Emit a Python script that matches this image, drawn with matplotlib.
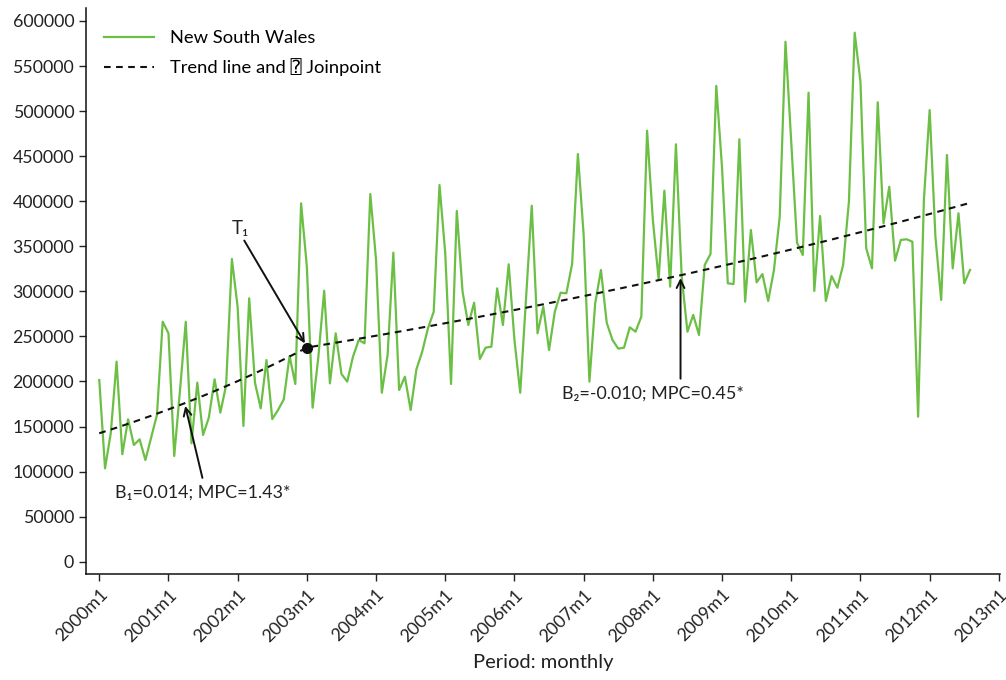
import numpy as np
import matplotlib
matplotlib.use('Agg')
import matplotlib.pyplot as plt

plt.rcParams['font.family'] = ['Lato', 'DejaVu Sans', 'DejaVu Sans Mono']

# monthly counts, New South Wales, 2000m1 .. 2012m8
nsw = [201600, 103600, 142800, 222000, 119200, 158000, 129500, 135800, 112800, 138000,
       162800, 266300, 253400, 117300, 190000, 266300, 131400, 198700, 140600, 159800,
       202400, 165400, 196100, 335900, 282300, 150600, 292300, 198700, 170200, 223800,
       158300, 168300, 180200, 228300, 197200, 397700, 327300, 170900, 227500, 300700,
       197900, 253400, 208300, 199800, 227500, 246000, 242300, 408000, 334800, 187500,
       229400, 342900, 190500, 205300, 168300, 213500, 233000, 259000, 277400, 418000,
       342200, 197200, 389200, 299600, 262600, 287400, 224900, 237500, 238600, 303300,
       262600, 330000, 246000, 187500, 291000, 395000, 253400, 283000, 234900, 277400,
       298500, 297800, 330300, 452400, 362500, 199800, 286700, 323700, 265200, 246000,
       236400, 237500, 260100, 255200, 271900, 478300, 379200, 313400, 411700, 305200,
       463200, 316300, 255200, 273800, 251600, 329300, 341500, 528000, 436900, 308900,
       308100, 468700, 288500, 368100, 310000, 319200, 289300, 323700, 382800, 577000,
       465000, 354000, 340300, 520400, 300400, 383600, 289300, 317000, 304000, 329300,
       399500, 587000, 532600, 347800, 325500, 509800, 375500, 416100, 334000, 357000,
       357800, 355100, 160900, 401400, 501200, 360600, 290400, 451300, 325500, 386600,
       308900, 323700]

# joinpoint model: start level, monthly percent change per segment, joinpoint month
trend_start = 142500
mpc1 = 1.43
mpc2 = 0.45
joinpoint = 36

years = list(range(2000, 2014))
tick_labels = ['%dm1' % y for y in years]


def trend_at(x):
    if x <= joinpoint:
        return trend_start * (1 + mpc1 / 100) ** x
    return trend_start * (1 + mpc1 / 100) ** joinpoint * (1 + mpc2 / 100) ** (x - joinpoint)


t = np.arange(len(nsw))
trend = [trend_at(x) for x in t]

green = '#6cbf45'
ink = '#222222'

fig = plt.figure(figsize=(10.06, 6.80), dpi=100)
ax = fig.add_axes([86 / 1006, 1 - 574 / 680, (1000 - 86) / 1006, (574 - 8) / 680])

ax.plot(t, nsw, color=green, lw=1.6, label='New South Wales')
ax.plot(t, trend, color='#111111', lw=1.5, ls=(0, (3.2, 2.6)), label='Trend line and \u2370 Joinpoint')
ax.plot([joinpoint], [trend_at(joinpoint)], 'o', color='#111111', ms=7)

arrow = dict(arrowstyle='->', color='#111111', lw=1.4, mutation_scale=14)
ax.annotate('', xy=(joinpoint - 0.1, trend_at(joinpoint) + 2000), xytext=(24.9, 359000),
            arrowprops=arrow)
ax.text(24.5, 360000, 'T\u2081', fontsize=13.5, ha='center', va='bottom', color=ink)

ax.annotate('', xy=(14.8, trend_at(14.8)), xytext=(18.0, 90000), arrowprops=arrow)
ax.text(2.7, 77000, 'B\u2081=0.014; MPC=1.43*', fontsize=12.9, ha='left', va='center', color=ink)

ax.annotate('', xy=(100.8, trend_at(100.8)), xytext=(100.8, 200000), arrowprops=arrow)
ax.text(80.2, 186000, 'B\u2082=-0.010; MPC=0.45*', fontsize=12.9, ha='left', va='center', color=ink)

ax.set_xlim(-2.3, 156.2)
ax.set_ylim(-13650, 614400)
ax.set_xticks(range(0, 157, 12))
ax.set_xticklabels(tick_labels, rotation=45, ha='right', rotation_mode='anchor')
ax.set_yticks(range(0, 600001, 50000))
ax.set_yticklabels([str(v) for v in range(0, 600001, 50000)])
ax.tick_params(axis='both', labelsize=12.8, colors=ink, length=5, width=1.0, direction='out')
ax.tick_params(axis='x', pad=4)
ax.set_xlabel('Period: monthly', fontsize=14.5, color=ink, labelpad=7)

for side in ['top', 'right']:
    ax.spines[side].set_visible(False)
for side in ['left', 'bottom']:
    ax.spines[side].set_linewidth(1.1)
    ax.spines[side].set_color('#111111')

ax.legend(loc='upper left', bbox_to_anchor=(0.002, 0.99), frameon=False, fontsize=13.2,
          handlelength=2.7, handletextpad=0.9, labelspacing=0.65)

fig.savefig('out.png', dpi=100)
